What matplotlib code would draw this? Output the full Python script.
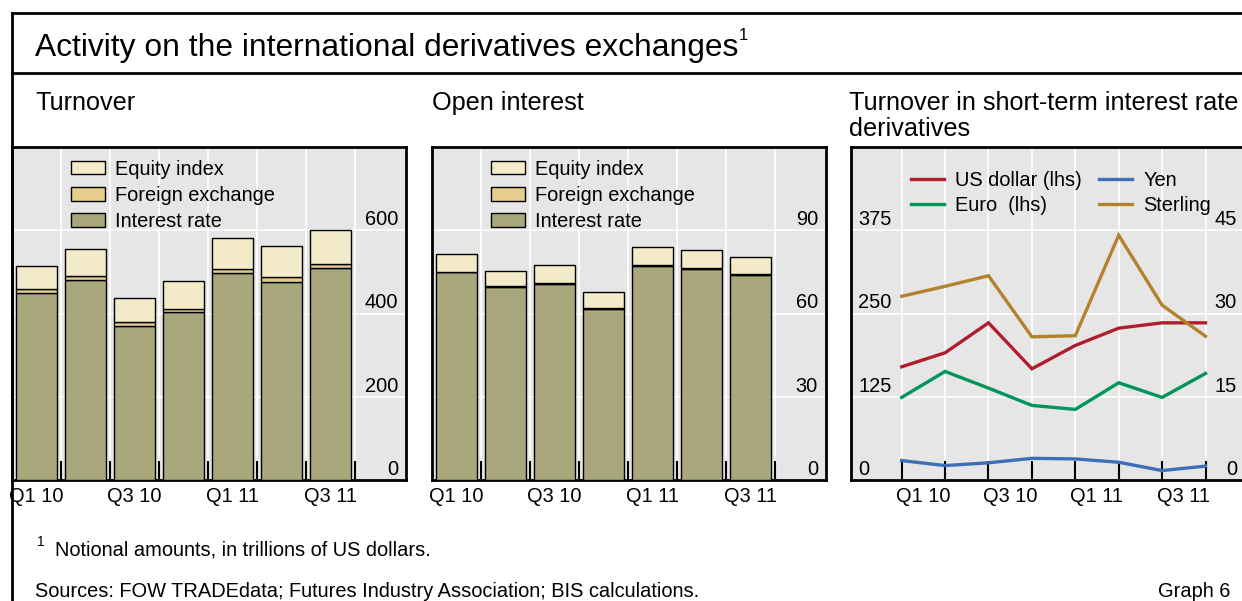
import matplotlib
matplotlib.use("Agg")
import matplotlib.pyplot as plt
import matplotlib.transforms as mtransforms
from matplotlib.patches import Patch
from matplotlib.lines import Line2D

# ----------------------------------------------------------------------------------------------------------------------
# Data
bar_ticks     = ["Q1 10", "Q3 10", "Q1 11", "Q3 11"]
line_ticks    = ["Q1 10", "Q3 10", "Q1 11", "Q3 11"]

# Turnover (Stacked Bars)
turn_rate     = [449, 480, 371, 403, 497, 476, 509]
turn_fx       = [10, 11, 9, 9, 10, 12, 10]
turn_equity   = [54, 64, 58, 66, 74, 73, 82]

# Open Interest (Stacked Bars)
open_rate     = [74.8, 69.5, 70.7, 61.7, 77.2, 76.0, 73.8]
open_fx       = [0.3, 0.3, 0.3, 0.3, 0.3, 0.3, 0.3]
open_equity   = [6.4, 5.5, 6.5, 5.7, 6.6, 6.5, 6.3]

# Short-Term Interest Rate Derivatives (Lines)
usd_lhs       = [170, 191, 236, 167, 202, 228, 236, 236]
eur_lhs       = [124, 163, 138, 112, 106, 146, 124, 160]
yen_rhs       = [3.5, 2.6, 3.1, 3.9, 3.8, 3.2, 1.7, 2.5]
gbp_rhs       = [33.1, 34.9, 36.8, 25.8, 26.0, 44.1, 31.5, 25.9]
# ----------------------------------------------------------------------------------------------------------------------

W, H = 1242, 601
BG   = "#E6E6E6"
C_IR, C_FX, C_EQ = "#A8A87C", "#E6CD8E", "#F3EAC9"
C_USD, C_EUR, C_YEN, C_GBP = "#B01E2D", "#00955A", "#3D6FB6", "#B3822C"
FS = 14.4

plt.rcParams["font.family"] = ["Liberation Sans", "DejaVu Sans"]


def fx(x):
    return x / W


def fy(y):
    return 1 - y / H


def add_ax(left, right, top=147, bottom=480):
    return fig.add_axes([fx(left), fy(bottom), (right - left) / W, (bottom - top) / H])


def style_ax(ax):
    """ Grey Background, Thick Black Frame, No Default Y Labels """
    ax.set_facecolor(BG)
    for s in ax.spines.values():
        s.set_linewidth(2)
        s.set_color("black")
    ax.tick_params(axis="y", length=0, labelleft=False, labelright=False)
    ax.grid(which="major", axis="y", color="white", lw=1.2)
    ax.grid(which="minor", axis="x", color="white", lw=1.2)
    ax.set_axisbelow(True)


def y_labels(ax, ticks, side="right", dx=8):
    # Labels Sit Inside The Plot, Just Above Each Gridline
    if side == "right":
        trans = mtransforms.offset_copy(ax.get_yaxis_transform(), fig=fig, x=-dx, y=5, units="dots")
        for t in ticks:
            ax.text(1.0, t, str(t), transform=trans, ha="right", va="baseline", fontsize=FS, clip_on=False)
    else:
        trans = mtransforms.offset_copy(ax.get_yaxis_transform(), fig=fig, x=dx, y=5, units="dots")
        for t in ticks:
            ax.text(0.0, t, str(t), transform=trans, ha="left", va="baseline", fontsize=FS, clip_on=False)


def bar_panel(ax, rate, fxv, eq, ymax, ticks):
    x  = list(range(len(rate)))
    b2 = [r + f for r, f in zip(rate, fxv)]
    kw = dict(width=0.85, edgecolor="black", linewidth=1, zorder=3)
    ax.bar(x, rate, color=C_IR, **kw)
    ax.bar(x, fxv, bottom=rate, color=C_FX, **kw)
    ax.bar(x, eq, bottom=b2, color=C_EQ, **kw)

    ax.set_xlim(-0.5, 7.54)
    ax.set_ylim(0, ymax)
    ax.set_yticks(ticks)
    ax.set_xticks([0, 2, 4, 6])
    ax.set_xticklabels(bar_ticks, fontsize=FS)
    ax.set_xticks([i + 0.5 for i in range(len(rate))], minor=True)
    ax.tick_params(axis="x", which="major", length=0, pad=5)
    ax.tick_params(axis="x", which="minor", direction="in", length=14, width=1.5, color="black")
    style_ax(ax)
    y_labels(ax, ticks)

    handles = [Patch(facecolor=C_EQ, edgecolor="black", lw=1, label="Equity index"),
               Patch(facecolor=C_FX, edgecolor="black", lw=1, label="Foreign exchange"),
               Patch(facecolor=C_IR, edgecolor="black", lw=1, label="Interest rate")]
    ax.legend(handles=handles, loc="upper left", bbox_to_anchor=(0.15, 0.962), frameon=False,
              fontsize=FS, handlelength=1.7, handleheight=0.65, handletextpad=0.5,
              labelspacing=0.36, borderpad=0, borderaxespad=0)


fig = plt.figure(figsize=(W / 100, H / 100), dpi=100)

# Frame Lines Around The Graph Box
for xs, ys in [([12, 12], [13, 601]), ([12, W], [13, 13]), ([12, W], [73, 73])]:
    fig.add_artist(Line2D([fx(v) for v in xs], [fy(v) for v in ys], transform=fig.transFigure,
                          color="black", lw=2))

# Titles
fig.text(fx(35), fy(56), "Activity on the international derivatives exchanges", fontsize=22.9, va="baseline")
fig.text(fx(739), fy(40), "1", fontsize=12, va="baseline")
fig.text(fx(35), fy(110), "Turnover", fontsize=18.2, va="baseline")
fig.text(fx(432), fy(110), "Open interest", fontsize=18.2, va="baseline")
fig.text(fx(849), fy(110), "Turnover in short-term interest rate", fontsize=18.2, va="baseline")
fig.text(fx(849), fy(136), "derivatives", fontsize=18.2, va="baseline")

# Panel 1 & 2: Stacked Bars
ax1 = add_ax(12, 406)
bar_panel(ax1, turn_rate, turn_fx, turn_equity, 800, [0, 200, 400, 600])

ax2 = add_ax(432, 826)
bar_panel(ax2, open_rate, open_fx, open_equity, 120, [0, 30, 60, 90])

# Panel 3: Lines On Two Axes
ax3 = add_ax(851, 1244)
xs = list(range(len(usd_lhs)))
ax3.plot(xs, usd_lhs, color=C_USD, lw=2.4, solid_joinstyle="miter", zorder=3)
ax3.plot(xs, eur_lhs, color=C_EUR, lw=2.4, solid_joinstyle="miter", zorder=3)
ax3.set_xlim(-1.168, 7.887)
ax3.set_ylim(0, 500)
ax3.set_yticks([0, 125, 250, 375])
ax3.set_xticks([0.5, 2.5, 4.5, 6.5])
ax3.set_xticklabels(line_ticks, fontsize=FS)
ax3.set_xticks(xs, minor=True)
ax3.tick_params(axis="x", which="major", length=0, pad=5)
ax3.tick_params(axis="x", which="minor", direction="in", length=14, width=1.5, color="black")
style_ax(ax3)
y_labels(ax3, [0, 125, 250, 375], side="left", dx=7)

ax3r = ax3.twinx()
ax3r.plot(xs, yen_rhs, color=C_YEN, lw=2.4, solid_joinstyle="miter", zorder=3)
ax3r.plot(xs, gbp_rhs, color=C_GBP, lw=2.4, solid_joinstyle="miter", zorder=3)
ax3r.set_ylim(0, 60)
ax3r.set_yticks([])
for s in ax3r.spines.values():
    s.set_visible(False)
y_labels(ax3r, [0, 15, 30, 45], side="right", dx=7)

handles = [Line2D([0], [0], color=C_USD, lw=2.4, label="US dollar (lhs)"),
           Line2D([0], [0], color=C_EUR, lw=2.4, label="Euro  (lhs)"),
           Line2D([0], [0], color=C_YEN, lw=2.4, label="Yen"),
           Line2D([0], [0], color=C_GBP, lw=2.4, label="Sterling")]
ax3r.legend(handles=handles, ncol=2, loc="upper left", bbox_to_anchor=(0.152, 0.927), frameon=False,
            fontsize=FS, handlelength=1.65, handletextpad=0.55, columnspacing=0.9,
            labelspacing=0.3, borderpad=0, borderaxespad=0)

# Footnotes
fig.text(fx(37), fy(546), "1", fontsize=10, va="baseline")
fig.text(fx(55), fy(556), "Notional amounts, in trillions of US dollars.", fontsize=FS, va="baseline")
fig.text(fx(35), fy(597), "Sources: FOW TRADEdata; Futures Industry Association; BIS calculations.",
         fontsize=FS, va="baseline")
fig.text(fx(1230), fy(597), "Graph 6", fontsize=FS, va="baseline", ha="right")

fig.savefig("out.png", dpi=100)
